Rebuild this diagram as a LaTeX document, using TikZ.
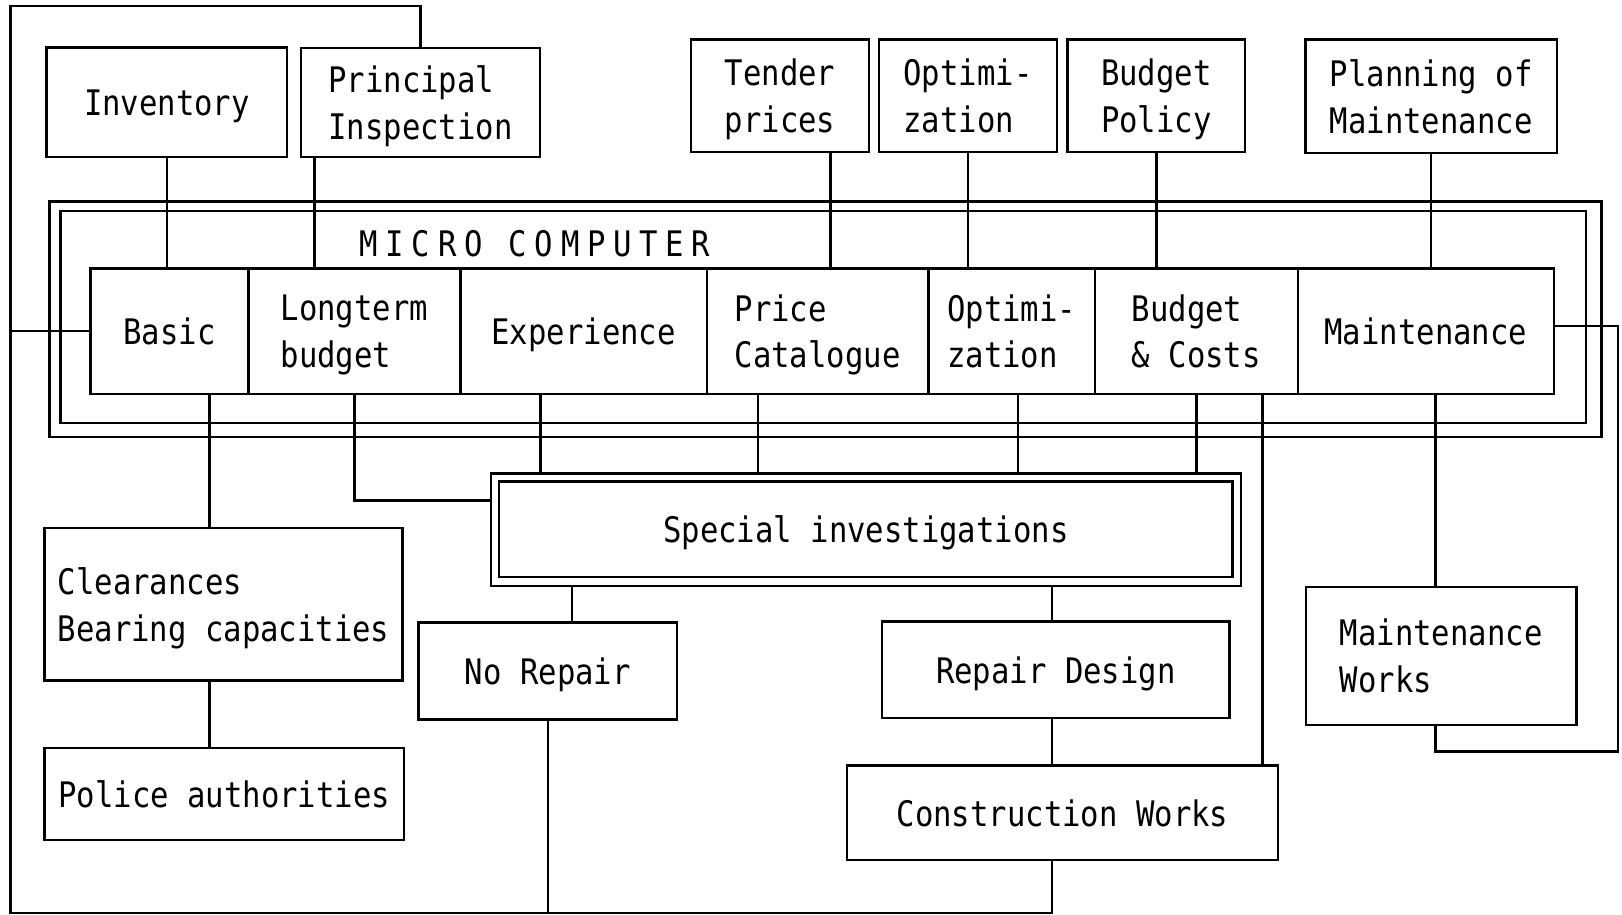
\documentclass[tikz,border=0pt]{standalone}
\usepackage{fontspec}
\newfontfamily\plotfont[FakeStretch=0.87]{DejaVu Sans Mono}
\usetikzlibrary{positioning}
\tikzset{
  box/.style={draw, outer sep=0pt, inner sep=0pt, align=left, text depth=0pt, font=\plotfont\fontsize{10}{13.3}\selectfont},
  frame/.style={draw, outer sep=0pt},
  cell/.style={box, minimum height=1.255cm},
}
\begin{document}
\begin{tikzpicture}[x=0.01cm, y=-0.01cm, line width=0.7pt]
\useasboundingbox (0,0) rectangle (1622,914);
% inputs
\node[box, minimum width=2.403cm, minimum height=1.093cm] (inv) at (166.9,102.4) {Inventory};
\node[box, minimum width=2.39cm, minimum height=1.09cm] (princ) at (420.5,102.5) {Principal\\Inspection};
\node[box, minimum width=1.78cm, minimum height=1.127cm] (tender) at (780,95.7) {Tender\\prices};
\node[box, minimum width=1.78cm, minimum height=1.127cm] (optim) at (968,95.7) {Optimi-\\zation};
\node[box, minimum width=1.775cm, minimum height=1.127cm] (bpol) at (1156.3,95.7) {Budget\\Policy};
\node[box, minimum width=2.514cm, minimum height=1.137cm] (plan) at (1431.1,96.2) {Planning of\\Maintenance};
% micro computer
\node[frame, minimum width=15.51cm, minimum height=2.353cm] (micro) at (825.5,319.4) {};
\node[frame, minimum width=15.247cm, minimum height=2.12cm] (microin) at (823.4,317) {};
\node[box, draw=none, font=\plotfont\fontsize{10}{13.3}\selectfont\addfontfeature{LetterSpace=22}] (mctitle) at (535,243) {MICRO COMPUTER};
\node[cell, minimum width=1.576cm] (basic) at (169.5,331.2) {Basic};
\node[cell, minimum width=2.12cm, right=0pt of basic] (lterm) {Longterm\\budget};
\node[cell, minimum width=2.462cm, right=0pt of lterm] (exper) {Experience};
\node[cell, minimum width=2.214cm, right=0pt of exper] (price) {Price\\Catalogue};
\node[cell, minimum width=1.665cm, right=0pt of price] (optcalc) {Optimi-\\zation};
\node[cell, minimum width=2.027cm, right=0pt of optcalc] (bcost) {Budget\\\& Costs};
\node[cell, minimum width=2.559cm, right=0pt of bcost] (maint) {Maintenance};
% outputs
\node[box, minimum width=7.497cm, minimum height=1.124cm] (spec) at (865.85,529.5) {Special investigations};
\draw ([shift={(8.3,8.3)}]spec.north west) rectangle ([shift={(-8.3,-8.7)}]spec.south east);
\node[box, minimum width=3.58cm, minimum height=1.523cm] (clear) at (223.6,604.2) {Clearances\\Bearing capacities};
\node[box, minimum width=3.594cm, minimum height=0.923cm] (police) at (224.3,793.9) {Police authorities};
\node[box, minimum width=2.585cm, minimum height=0.968cm] (norep) at (547.8,671.1) {No Repair};
\node[box, minimum width=3.475cm, minimum height=0.96cm] (repdes) at (1055.8,669.7) {Repair Design};
\node[box, minimum width=4.31cm, minimum height=0.945cm] (constr) at (1062.5,812.8) {Construction Works};
\node[box, minimum width=2.706cm, minimum height=1.383cm] (mworks) at (1441.1,655.9) {Maintenance\\Works};
% loop ends and line positions
\coordinate (lt) at (10.5,6);
\coordinate (lb) at (10.5,913);
\coordinate (lr) at (1618,751.7);
\coordinate (yl) at (0,500.3);
\coordinate (xp) at (314.5,0);
\coordinate (xt) at (830.6,0);
\coordinate (xb) at (209.3,0);
\coordinate (xe) at (540.3,0);
\coordinate (xq) at (758,0);
\coordinate (xo) at (1018,0);
\coordinate (xc) at (1262.5,0);
\coordinate (xm) at (1435.5,0);
\coordinate (xn) at (572,0);
\coordinate (xw) at (1052,0);
\draw (princ.north) |- (lt) -- (lb) -| (constr.south -| xw);
\draw (basic.west) -- (basic.west -| lt);
\draw (norep.south) -- (norep.south |- lb);
\draw (inv.south) -- (inv.south |- basic.north);
\draw (princ.south -| xp) -- (lterm.north -| xp);
\draw (tender.south -| xt) -- (price.north -| xt);
\draw (optim.south) -- (optim.south |- optcalc.north);
\draw (bpol.south) -- (bpol.south |- bcost.north);
\draw (plan.south) -- (plan.south |- maint.north);
\draw (basic.south -| xb) -- (clear.north -| xb);
\draw (clear.south -| xb) -- (police.north -| xb);
\draw (lterm.south) |- (spec.west |- yl);
\draw (exper.south -| xe) -- (spec.north -| xe);
\draw (price.south -| xq) -- (spec.north -| xq);
\draw (optcalc.south -| xo) -- (spec.north -| xo);
\draw (bcost.south) -- (bcost.south |- spec.north);
\draw (bcost.south -| xc) -- (constr.north -| xc);
\draw (maint.south -| xm) -- (mworks.north -| xm);
\draw ([shift={(0,-5)}]maint.east) -| (lr) -| (mworks.south -| xm); %% back into the works
\draw (spec.south -| xn) -- (norep.north -| xn);
\draw (spec.south -| xw) -- (repdes.north -| xw);
\draw (repdes.south -| xw) -- (constr.north -| xw);
\end{tikzpicture}
\end{document}
